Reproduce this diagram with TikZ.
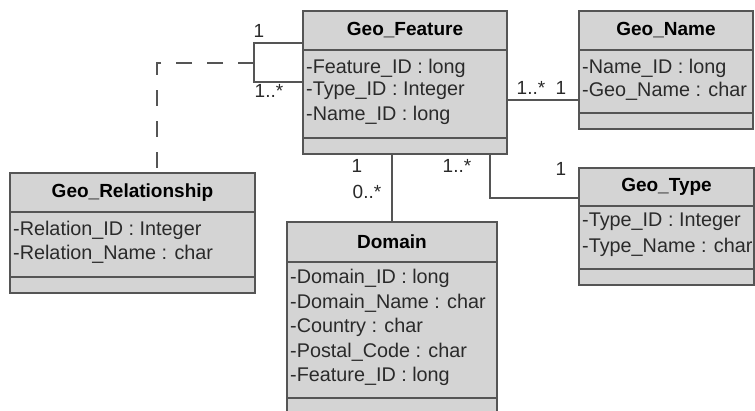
\documentclass[tikz,border=0pt]{standalone}
\usepackage{fontspec}
\setmainfont{Liberation Sans}
\usetikzlibrary{calc}
\definecolor{boxfill}{HTML}{D4D4D4}
\definecolor{edge}{HTML}{555555}
\definecolor{txt}{HTML}{2A2A2A}
\begin{document}
\begin{tikzpicture}[x=1pt,y=-1pt,
  cls/.style={draw=edge,fill=boxfill,line width=1.5pt,anchor=north west,inner sep=0pt,outer sep=0pt},
  title/.style={font=\fontsize{19}{22}\selectfont\bfseries,text=black,inner sep=0pt},
  attr/.style={font=\fontsize{19.8}{24}\selectfont,text=txt,anchor=west,inner sep=0pt},
  sep/.style={draw=edge,line width=1.5pt},
  conn/.style={draw=edge,line width=1.5pt},
  assoc/.style={draw=edge,line width=1.5pt,dash pattern=on 16pt off 15pt},
  mult/.style={font=\fontsize{19}{22}\selectfont,text=txt,inner sep=0pt}]
\useasboundingbox (0,0) rectangle (755,410);
\clip (0,0) rectangle (755,410);
\fill[white] (0,0) rectangle (755,410);

% ---- Geo_Feature
\node[cls,minimum width=204pt,minimum height=143pt] (GF) at (303,11) {};
\draw[sep] ($(GF.north west)+(0,39)$) -- ($(GF.north east)+(0,39)$);
\draw[sep] ($(GF.north west)+(0,127)$) -- ($(GF.north east)+(0,127)$);
\node[title] (GFt) at ($(GF.north)+(0,19.5)$) {Geo\_Feature};
\node[attr] (GFa1) at ($(GF.north west)+(3,57)$) {-Feature\_ID : long};
\node[attr] (GFa2) at ($(GF.north west)+(3,80)$) {-Type\_ID : Integer};
\node[attr] (GFa3) at ($(GF.north west)+(3,104)$) {-Name\_ID : long};

% ---- Geo_Name
\node[cls,minimum width=174pt,minimum height=118pt] (GN) at (579,11) {};
\draw[sep] ($(GN.north west)+(0,39)$) -- ($(GN.north east)+(0,39)$);
\draw[sep] ($(GN.north west)+(0,102)$) -- ($(GN.north east)+(0,102)$);
\node[title] (GNt) at ($(GN.north)+(0,19.5)$) {Geo\_Name};
\node[attr] (GNa1) at ($(GN.north west)+(3,57)$) {-Name\_ID : long};
\node[attr] (GNa2) at ($(GN.north west)+(3,80)$) {-Geo\_Name : char};

% ---- Geo_Relationship
\node[cls,minimum width=245pt,minimum height=120pt] (GR) at (10,173) {};
\draw[sep] ($(GR.north west)+(0,39)$) -- ($(GR.north east)+(0,39)$);
\draw[sep] ($(GR.north west)+(0,104)$) -- ($(GR.north east)+(0,104)$);
\node[title] (GRt) at ($(GR.north)+(0,19.5)$) {Geo\_Relationship};
\node[attr] (GRa1) at ($(GR.north west)+(3,57)$) {-Relation\_ID : Integer};
\node[attr] (GRa2) at ($(GR.north west)+(3,81)$) {-Relation\_Name : char};

% ---- Domain
\node[cls,minimum width=210pt,minimum height=200pt] (DM) at (287,222) {};
\draw[sep] ($(DM.north west)+(0,40)$) -- ($(DM.north east)+(0,40)$);
\draw[sep] ($(DM.north west)+(0,176)$) -- ($(DM.north east)+(0,176)$);
\node[title] (DMt) at ($(DM.north)+(0,20)$) {Domain};
\node[attr] (DMa1) at ($(DM.north west)+(3,56)$) {-Domain\_ID : long};
\node[attr] (DMa2) at ($(DM.north west)+(3,81)$) {-Domain\_Name : char};
\node[attr] (DMa3) at ($(DM.north west)+(3,105)$) {-Country : char};
\node[attr] (DMa4) at ($(DM.north west)+(3,130)$) {-Postal\_Code : char};
\node[attr] (DMa5) at ($(DM.north west)+(3,154)$) {-Feature\_ID : long};

% ---- Geo_Type
\node[cls,minimum width=175pt,minimum height=117pt] (GT) at (579,168) {};
\draw[sep] ($(GT.north west)+(0,38)$) -- ($(GT.north east)+(0,38)$);
\draw[sep] ($(GT.north west)+(0,101)$) -- ($(GT.north east)+(0,101)$);
\node[title] (GTt) at ($(GT.north)+(0,19)$) {Geo\_Type};
\node[attr] (GTa1) at ($(GT.north west)+(3,54)$) {-Type\_ID : Integer};
\node[attr] (GTa2) at ($(GT.north west)+(3,79)$) {-Type\_Name : char};

% ---- connectors
\coordinate (lt) at (254,43);
\coordinate (lb) at (254,82);
\coordinate (lm) at (254,63);
\coordinate (ac) at (157,63);
\draw[conn] (GF.west |- lt) -- (lt) -- (lb) -- (GF.west |- lb);
\draw[assoc] (lm) -- (ac) -- (ac |- GR.north);

\coordinate (nm) at (0,100);
\draw[conn] (GF.east |- nm) -- (GN.west |- nm);

\draw[conn] (DM.north |- GF.south) -- (DM.north);

\coordinate (tc) at (490,198);
\draw[conn] (tc |- GF.south) -- (tc) -- (GT.west |- tc);

% ---- multiplicities
\node[mult] (m1) at (259,31) {1};
\node[mult] (m2) at (269,91) {1..*};
\node[mult] (m3) at (531,88) {1..*};
\node[mult] (m4) at (561,88) {1};
\node[mult] (m5) at (357,166) {1};
\node[mult] (m6) at (367,192) {0..*};
\node[mult] (m7) at (457,166) {1..*};
\node[mult] (m8) at (561,169) {1};
\end{tikzpicture}
\end{document}
